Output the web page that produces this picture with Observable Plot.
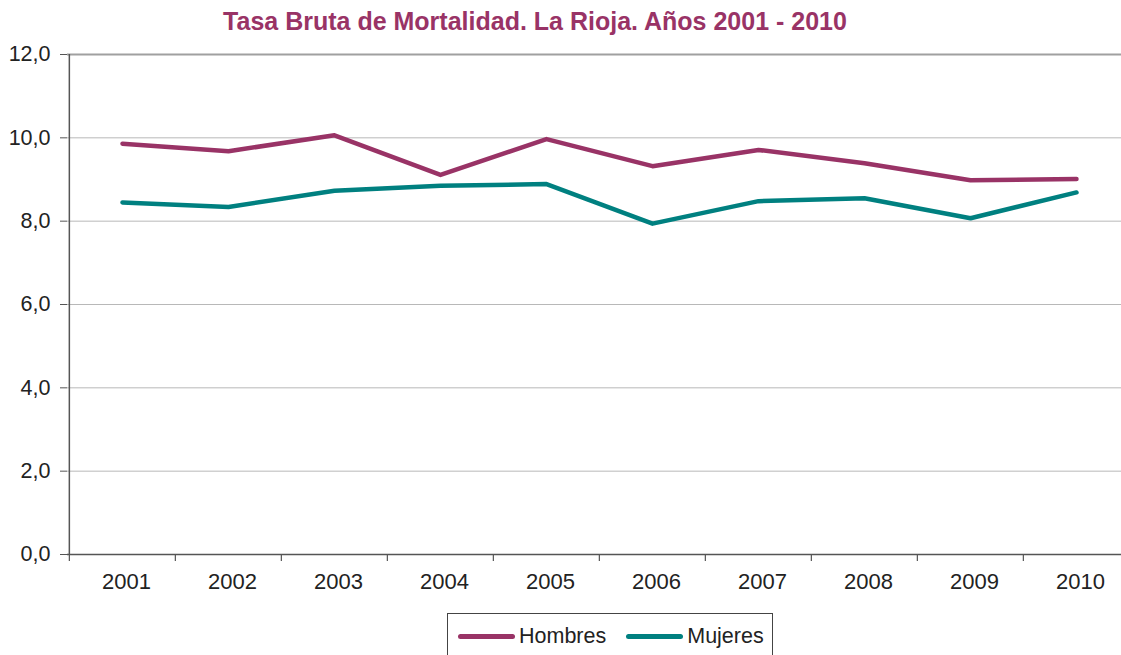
<!DOCTYPE html>
<html><head><meta charset="utf-8">
<script src="https://cdn.jsdelivr.net/npm/d3@7"></script>
<script src="https://cdn.jsdelivr.net/npm/@observablehq/plot@0.6"></script>
<style>
html,body{margin:0;padding:0;overflow:hidden;background:#fff;}
body{font-family:"Liberation Sans",Arial,Helvetica,sans-serif;width:1121px;height:655px;}
#title{height:40px;box-sizing:border-box;padding-top:3px;line-height:37px;width:1070px;text-align:center;color:#993366;font-size:25px;font-weight:bold;letter-spacing:0px;white-space:nowrap;}
#legend{margin-left:447px;margin-top:9px;width:326px;border:1px solid #444;box-sizing:border-box;display:flex;align-items:center;height:46px;padding-left:10px;font-size:21.5px;color:#222;}
#legend .item{display:flex;align-items:center;margin-right:20px;}
#legend .sw{width:57px;height:5px;border-radius:3px;margin-right:4px;}
</style></head>
<body>
<div id="title">Tasa Bruta de Mortalidad. La Rioja. Años 2001 - 2010</div>
<div id="chart"></div>
<div id="legend"></div>
<script>
const years = ["2001","2002","2003","2004","2005","2006","2007","2008","2009","2010"];
const hombres = [9.86, 9.68, 10.06, 9.11, 9.97, 9.32, 9.71, 9.39, 8.98, 9.01];
const mujeres = [8.45, 8.34, 8.73, 8.85, 8.89, 7.94, 8.48, 8.55, 8.07, 8.69];
const series = ["Hombres", "Mujeres"];
const colors = ["#993366", "#008080"];
const yTicks = [0, 2, 4, 6, 8, 10, 12];

const data = years.flatMap((y, i) => [
  {year: y, serie: series[0], value: hombres[i]},
  {year: y, serie: series[1], value: mujeres[i]}
]);

const xRange = [67, 1130];
const step = (xRange[1] - xRange[0]) / years.length;
const fmt = d => d.toFixed(1).replace(".", ",");

const plot = Plot.plot({
  width: 1121,
  height: 564,
  marginTop: 14,
  marginBottom: 50,
  marginLeft: 67,
  marginRight: 0,
  style: {fontFamily: '"Liberation Sans", Arial, Helvetica, sans-serif', fontSize: "21px", color: "#222", background: "#fff"},
  x: {type: "point", domain: years, range: xRange, padding: 0.5, label: null},
  y: {domain: [0, 12], label: null},
  color: {domain: series, range: colors},
  marks: [
    Plot.ruleY(yTicks.filter(d => d > 0 && d < 12), {stroke: "#b8b8b8", strokeWidth: 1}),
    Plot.ruleY([12], {stroke: "#a0a0a0", strokeWidth: 2}),
    Plot.axisY({ticks: yTicks, tickFormat: fmt, tickSize: 7, tickPadding: 10, stroke: "#555", fill: "#222", fontSize: 21.5, label: null}),
    Plot.axisX({tickSize: 0, tickPadding: 19, dx: 4, fill: "#222", fontSize: 22, label: null}),
    Plot.ruleX([years[0]], {dx: -step / 2, stroke: "#555", strokeWidth: 1.5}),
    Plot.ruleX(years, {x: d => d, dx: -step / 2, y1: 0, y2: 0, insetBottom: -7, stroke: "#555", strokeWidth: 1.2}),
    Plot.ruleY([0], {stroke: "#555", strokeWidth: 1.5}),
    Plot.line(data, {x: "year", y: "value", stroke: "serie", strokeWidth: 4.5, strokeLinecap: "round", strokeLinejoin: "round"})
  ]
});
document.getElementById("chart").appendChild(plot);

const legend = document.getElementById("legend");
series.forEach((s, i) => {
  const item = document.createElement("div");
  item.className = "item";
  const sw = document.createElement("div");
  sw.className = "sw";
  sw.style.background = colors[i];
  const t = document.createElement("span");
  t.textContent = s;
  item.appendChild(sw);
  item.appendChild(t);
  legend.appendChild(item);
});
</script>
</body></html>
